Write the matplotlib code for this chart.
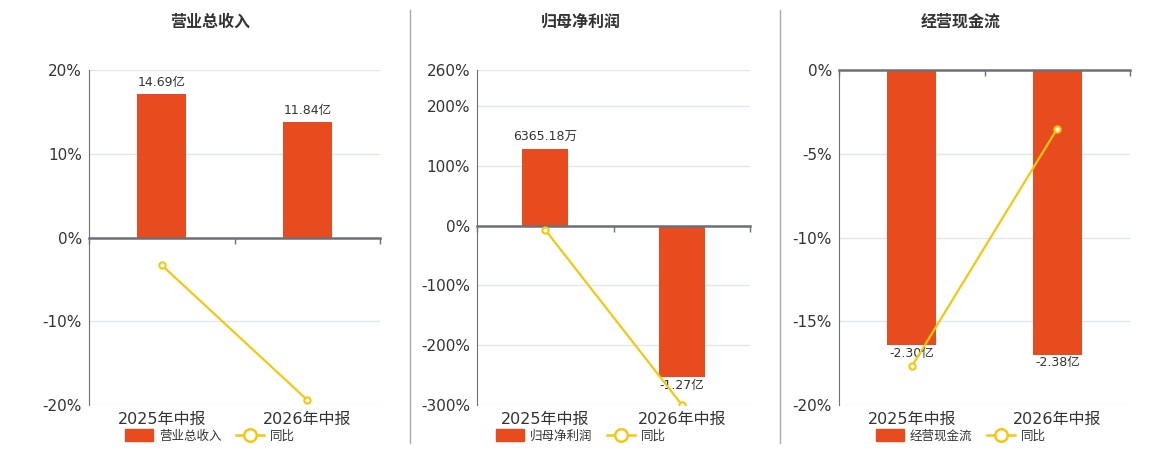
import matplotlib
matplotlib.use("Agg")
import matplotlib.pyplot as plt
from matplotlib.patches import Patch
from matplotlib.lines import Line2D

plt.rcParams['font.family'] = ['DejaVu Sans', 'Noto Sans CJK SC']

# data
periods = ['2025年中报', '2026年中报']
titles = ['营业总收入', '归母净利润', '经营现金流']
bar_values = [[14.69, 11.84], [0.636518, -1.27], [-2.30, -2.38]]   # 亿
bar_labels = [['14.69亿', '11.84亿'], ['6365.18万', '-1.27亿'], ['-2.30亿', '-2.38亿']]
yoy = [[-3.3, -19.4], [-7.2, -299.5], [-17.7, -3.5]]   # %
pct_ticks = [[20, 10, 0, -10, -20],
             [260, 200, 100, 0, -100, -200, -300],
             [0, -5, -10, -15, -20]]

# layout / styles
pct_lims = [(-20, 20), (-300, 260), (-20, 0)]
bar_lims = [(-17.2, 17.2), (-1.5, 1.3), (-2.8, 0)]
axes_px = [(89, 380), (477, 750), (839, 1130)]
title_x = [210, 581, 961]
W, H = 1160, 450
bar_color = '#E84C1E'
line_color = '#F2C811'
axis_color = '#6E7079'
grid_color = '#E0E6F1'
text_color = '#333333'

fig = plt.figure(figsize=(W / 100, H / 100), dpi=100)

for i in range(3):
    x0, x1 = axes_px[i]
    pos = [x0 / W, 45 / H, (x1 - x0) / W, 335 / H]
    ax = fig.add_axes(pos)
    ax.set_xlim(-0.5, 1.5)
    ax.set_ylim(*pct_lims[i])
    ax.set_yticks(pct_ticks[i])
    ax.set_yticklabels([f'{t}%' for t in pct_ticks[i]])
    ax.grid(axis='y', color=grid_color, lw=1)
    ax.set_axisbelow(True)
    for s in ['top', 'right', 'bottom']:
        ax.spines[s].set_visible(False)
    ax.spines['left'].set_color(axis_color)
    ax.tick_params(axis='y', length=0, labelsize=11, labelcolor=text_color, pad=5)
    ax.set_xticks(range(len(periods)))
    ax.set_xticklabels(periods)
    ax.set_xticks([-0.5, 0.5, 1.5], minor=True)
    ax.tick_params(axis='x', which='both', length=0, labelsize=11.5,
                   labelcolor=text_color, pad=5)

    # bars
    axb = ax.twinx()
    axb.xaxis.set_visible(True)
    axb.set_ylim(*bar_lims[i])
    bars = axb.bar(range(len(periods)), bar_values[i], width=0.34, color=bar_color, zorder=2)
    for b, v, lab in zip(bars, bar_values[i], bar_labels[i]):
        if v >= 0:
            axb.annotate(lab, (b.get_x() + b.get_width() / 2, v), xytext=(0, 4),
                         textcoords='offset points', ha='center', va='bottom',
                         fontsize=9, color=text_color)
        else:
            axb.annotate(lab, (b.get_x() + b.get_width() / 2, v), xytext=(0, -1),
                         textcoords='offset points', ha='center', va='top',
                         fontsize=9, color=text_color, zorder=5)
    for s in ['top', 'right', 'left']:
        axb.spines[s].set_visible(False)
    axb.spines['bottom'].set_position(('data', 0))
    axb.spines['bottom'].set_color(axis_color)
    axb.spines['bottom'].set_linewidth(1.8)
    axb.spines['bottom'].set_zorder(3)
    axb.tick_params(axis='y', right=False, labelright=False)
    axb.tick_params(axis='x', which='major', bottom=False, labelbottom=False)
    axb.tick_params(axis='x', which='minor', bottom=True, length=4, width=1,
                    color=axis_color, direction='out')

    # yoy line
    axl = ax.twinx()
    axl.set_ylim(*pct_lims[i])
    axl.plot(range(len(periods)), yoy[i], color=line_color, lw=1.6, marker='o',
             markersize=4.5, markerfacecolor='white', markeredgecolor=line_color,
             markeredgewidth=1.5, zorder=4)
    for s in axl.spines.values():
        s.set_visible(False)
    axl.tick_params(axis='y', right=False, labelright=False)

    fig.text(title_x[i] / W, 1 - 22 / H, titles[i], ha='center', va='center',
             fontsize=11.5, fontweight='bold', color=text_color)

    handles = [Patch(facecolor=bar_color, edgecolor=bar_color),
               Line2D([0], [0], color=line_color, lw=1.8, marker='o', markersize=9,
                      markerfacecolor='white', markeredgewidth=1.8)]
    fig.legend(handles, [titles[i], '同比'], loc='center',
               bbox_to_anchor=(title_x[i] / W, 1 - 436 / H), ncol=2, frameon=False,
               fontsize=9, handlelength=2.2, handleheight=1.1, columnspacing=1.2,
               handletextpad=0.5, labelcolor=text_color)

# separators
for xs in [410, 780]:
    fig.add_artist(Line2D([xs / W, xs / W], [1 - 10 / H, 1 - 443 / H],
                          color='#AAAAAA', lw=1))

fig.savefig('out.png', dpi=100)
